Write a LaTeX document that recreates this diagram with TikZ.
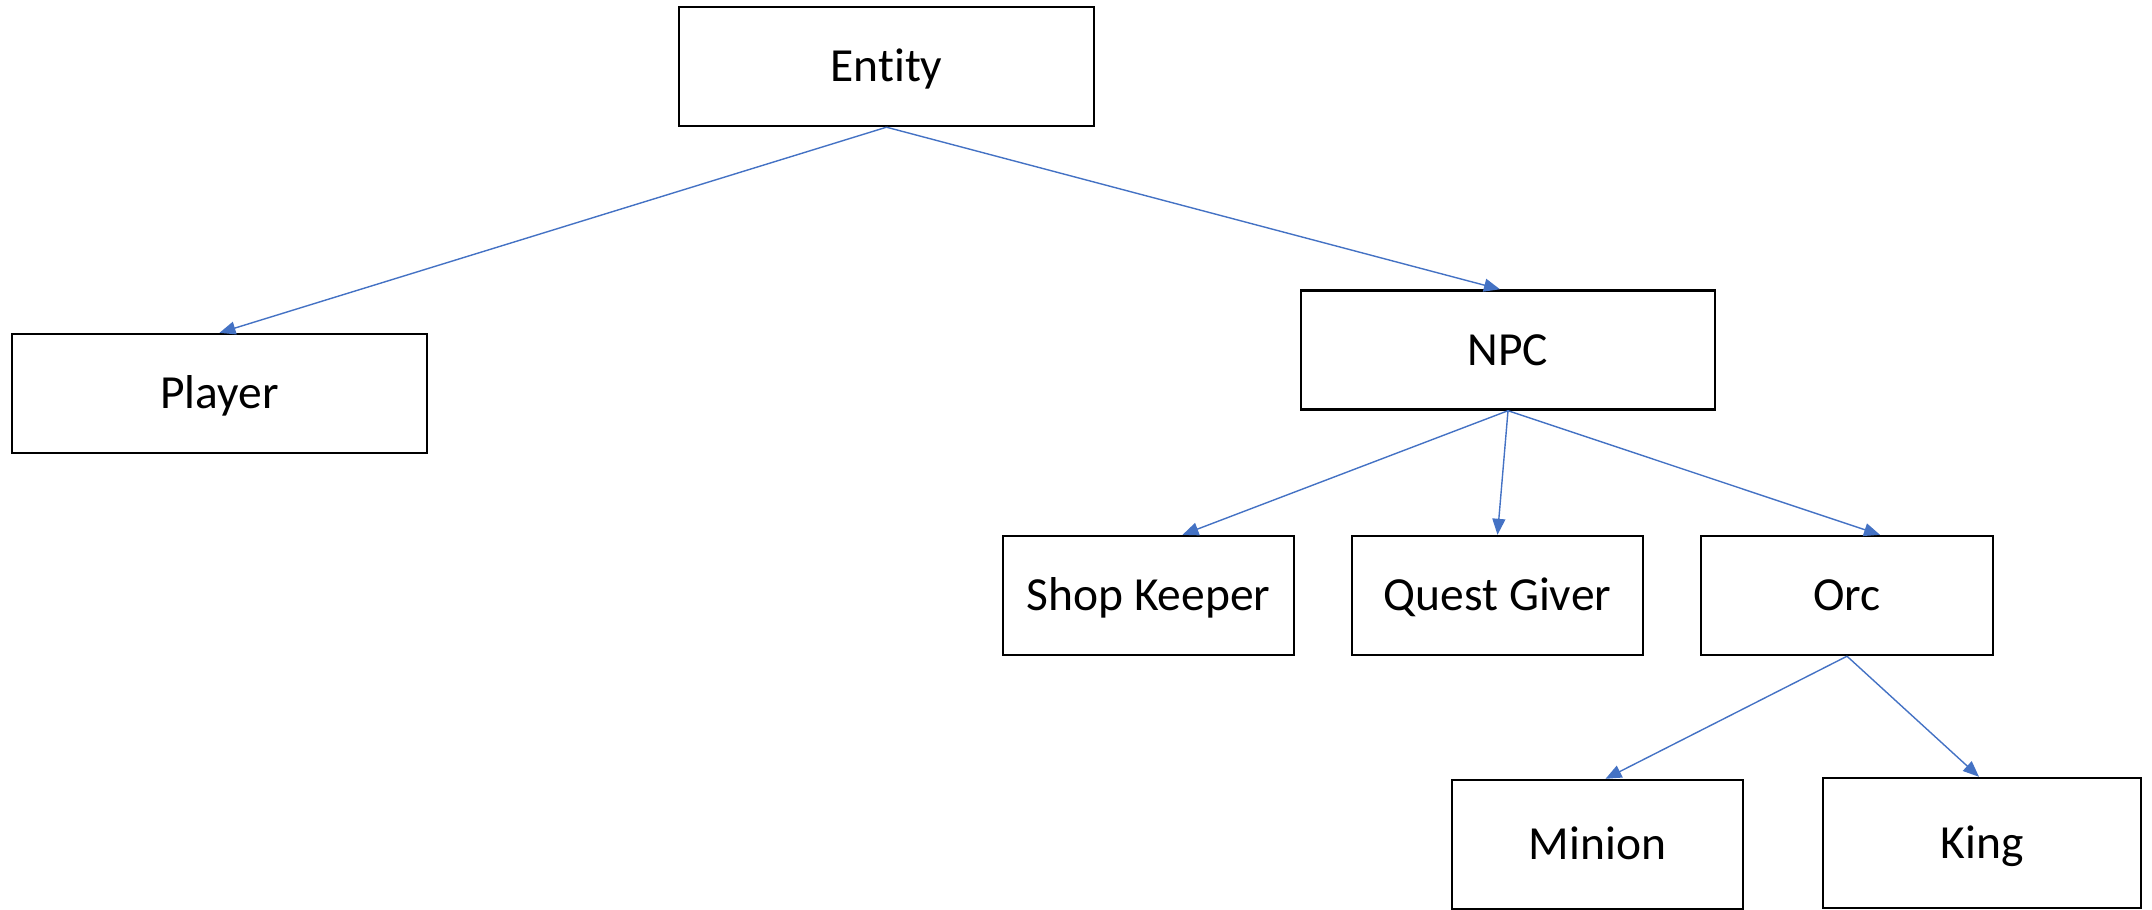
\documentclass[tikz,border=0pt]{standalone}
\usepackage{fontspec}
\setmainfont{Carlito}[Ligatures=NoCommon]
\usetikzlibrary{arrows.meta,calc}

\definecolor{linkblue}{RGB}{68,114,196}

\tikzset{
  classbox/.style={draw=black, line width=2.4pt, fill=white,
    inner sep=0pt, minimum height=119pt,
    font=\fontsize{47.5}{56}\selectfont,
    text height=30pt, text depth=0pt},
  inherit/.style={draw=linkblue, line width=1.4pt,
    -{Triangle[length=16pt,width=13pt]}}
}

\begin{document}
\begin{tikzpicture}[x=1pt,y=-1pt]
  \useasboundingbox (0,0) rectangle (2152,910);

  % class hierarchy boxes
  \node[classbox, minimum width=415pt] (entity) at (886.5,66.5)  {Entity};
  \node[classbox, minimum width=415pt] (player) at (219.5,393.5) {Player};
  \node[classbox, minimum width=414pt] (npc)    at (1508,350)    {NPC};
  \node[classbox, minimum width=291pt] (shop)   at (1148.5,595.5) {Shop Keeper};
  \node[classbox, minimum width=291pt] (quest)  at (1497.5,595.5) {Quest Giver};
  \node[classbox, minimum width=292pt] (orc)    at (1847,595.5)  {Orc};
  \node[classbox, minimum width=291pt, minimum height=129pt] (minion) at (1597.5,844.5) {Minion};
  \node[classbox, minimum width=318pt, minimum height=130pt] (king)   at (1982,843)    {King};

  % inheritance links
  \draw[inherit] (entity.south) -- (player.north);
  \draw[inherit] (entity.south) -- ($(npc.north)+(-8,0)$);
  \draw[inherit] (npc.south) -- ($(shop.north)+(34,0)$);
  \draw[inherit] (npc.south) -- (quest.north);
  \draw[inherit] (npc.south) -- ($(orc.north)+(33,0)$);
  \draw[inherit] (orc.south) -- ($(minion.north)+(8,0)$);
  \draw[inherit] (orc.south) -- ($(king.north)+(-3,0)$);
\end{tikzpicture}
\end{document}
